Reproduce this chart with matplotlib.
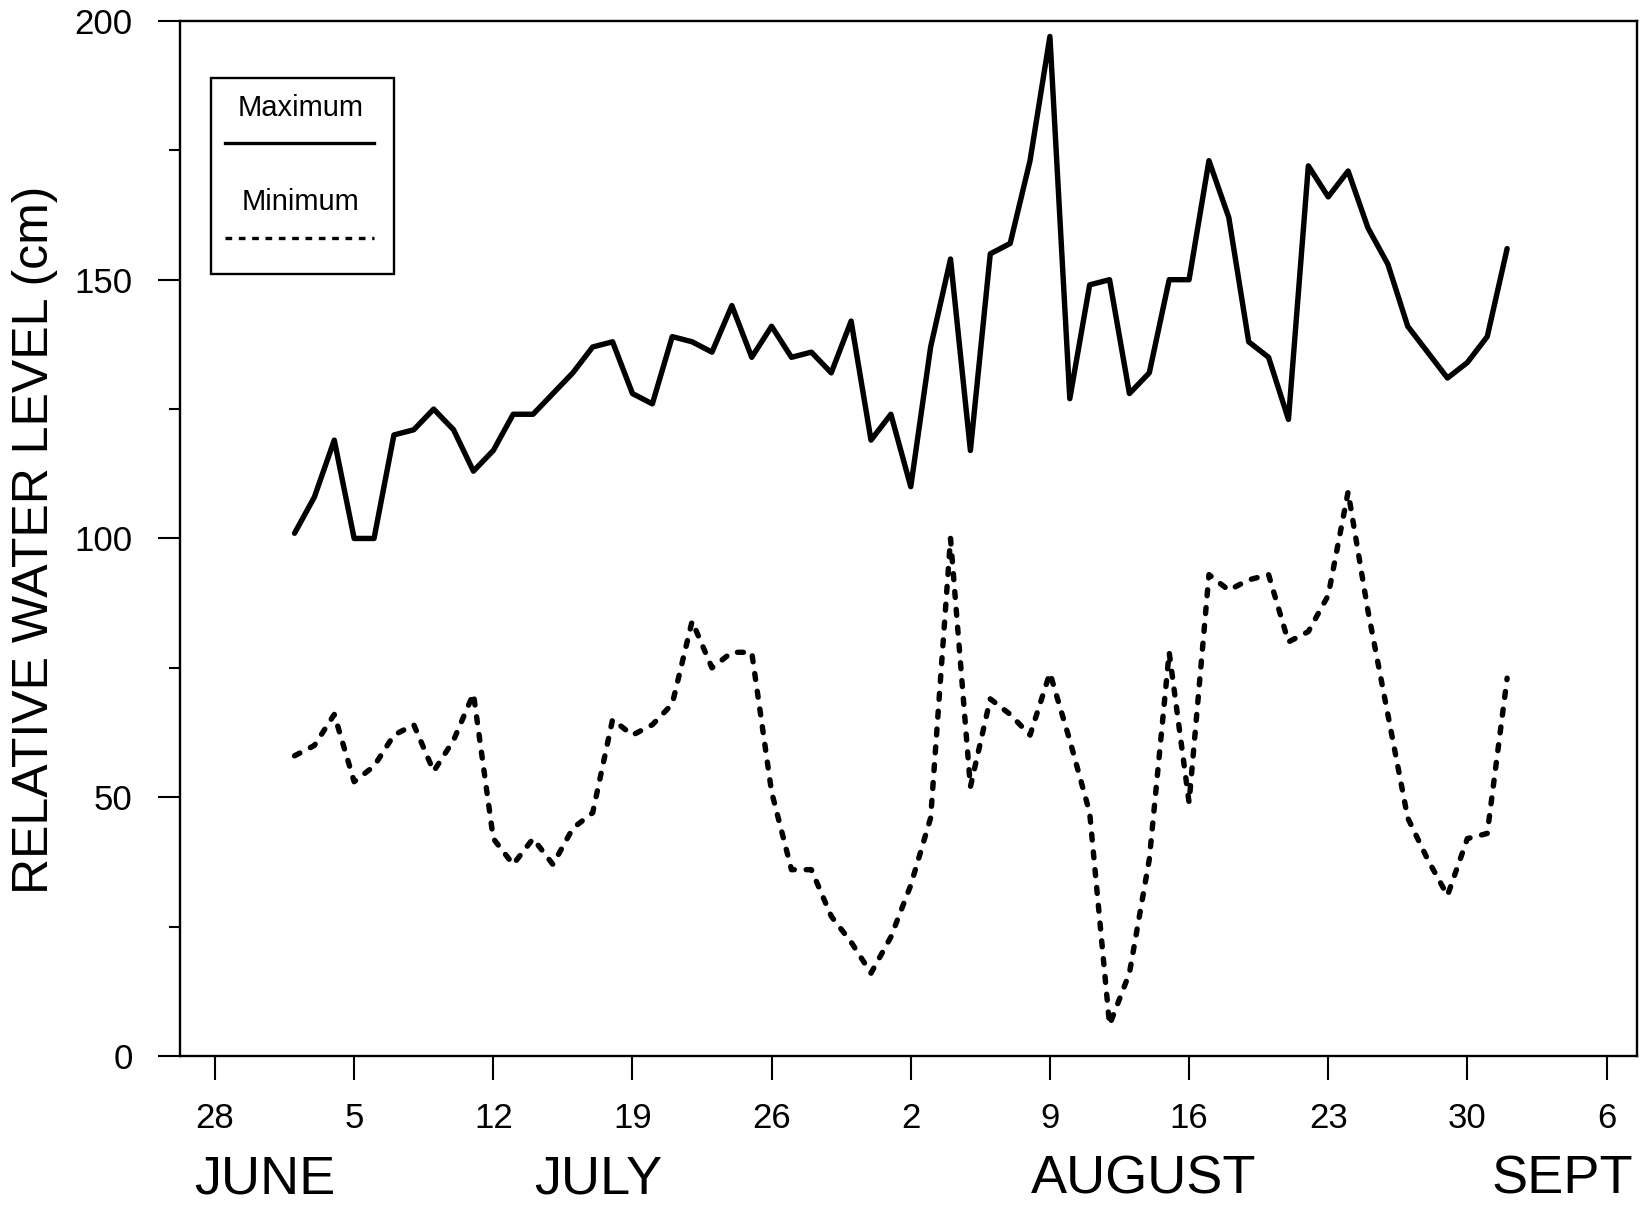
import matplotlib
matplotlib.use("Agg")
import matplotlib.pyplot as plt
from matplotlib.lines import Line2D
from matplotlib.patches import Rectangle
import numpy as np

plt.rcParams['font.family'] = ['Liberation Sans', 'DejaVu Sans']

# daily readings, day 0 = June 28 (first reading July 2, last Sept 1)
days = np.arange(4, 66)

level_max = [101, 108, 119, 100, 100, 120, 121, 125, 121, 113, 117, 124, 124, 128,
             132, 137, 138, 128, 126, 139, 138, 136, 145, 135, 141, 135, 136, 132,
             142, 119, 124, 110, 137, 154, 117, 155, 157, 173, 197, 127, 149, 150,
             128, 132, 150, 150, 173, 162, 138, 135, 123, 172, 166, 171, 160, 153,
             141, 136, 131, 134, 139, 156]

level_min = [58, 60, 66, 53, 56, 62, 64, 55, 61, 70, 42, 37, 42, 37,
             44, 47, 65, 62, 64, 68, 84, 75, 78, 78, 51, 36, 36, 27,
             22, 16, 23, 33, 46, 100, 52, 69, 66, 62, 74, 61, 47, 6,
             16, 38, 78, 49, 93, 90, 92, 93, 80, 82, 89, 109, 86, 66,
             46, 38, 31, 42, 43, 73]

tick_days = [0, 7, 14, 21, 28, 35, 42, 49, 56, 63, 70]
tick_labels = ["28", "5", "12", "19", "26", "2", "9", "16", "23", "30", "6"]
month_names = ["JUNE", "JULY", "AUGUST", "SEPT"]
month_days = [2.5, 19.3, 46.7, 67.8]

fig = plt.figure(figsize=(16.44, 12.10), dpi=100)
ax = fig.add_axes([0.1095, 0.1273, 0.8862, 0.8554])

ax.plot(days, level_max, color="black", lw=3.9, solid_joinstyle="round",
        solid_capstyle="round")
ax.plot(days, level_min, color="black", lw=3.9, linestyle=(0, (1.1, 2.2)),
        dash_capstyle="round", dash_joinstyle="round")

ax.set_xlim(-1.76, 71.53)
ax.set_ylim(0, 200)

ax.set_xticks(tick_days)
ax.set_xticklabels(tick_labels)
ax.set_yticks([0, 50, 100, 150, 200])
ax.set_yticks([25, 75, 125, 175], minor=True)

ax.tick_params(axis="x", direction="out", length=17, width=1.5, pad=16, labelsize=25)
ax.tick_params(axis="y", which="major", direction="out", length=16, width=1.5,
               pad=18, labelsize=25)
ax.tick_params(axis="y", which="minor", direction="out", length=8, width=1.5)
for sp in ax.spines.values():
    sp.set_linewidth(1.7)

# month names under the day numbers
for name, d in zip(month_names, month_days):
    ax.text(d, -0.119, name, transform=ax.get_xaxis_transform(), ha="center",
            va="center", fontsize=39)

fig.text(35 / 1644, 1 - 540 / 1210, "RELATIVE WATER LEVEL (cm)", rotation=90,
         ha="center", va="center", fontsize=36)

# boxed key with labels above the line samples
ax.add_patch(Rectangle((0.0213, 0.7556), 0.1256, 0.1894, transform=ax.transAxes,
                       fill=False, lw=1.7, ec="black"))
ax.text(0.083, 0.916, "Maximum", transform=ax.transAxes, ha="center", va="center",
        fontsize=21)
ax.add_line(Line2D([0.0309, 0.1331], [0.882, 0.882], transform=ax.transAxes,
                   color="black", lw=2.4))
ax.text(0.083, 0.825, "Minimum", transform=ax.transAxes, ha="center", va="center",
        fontsize=21)
ax.add_line(Line2D([0.0309, 0.1331], [0.790, 0.790], transform=ax.transAxes,
                   color="black", lw=2.4, linestyle=(0, (2.0, 2.0))))

fig.savefig("out.png", dpi=100)
